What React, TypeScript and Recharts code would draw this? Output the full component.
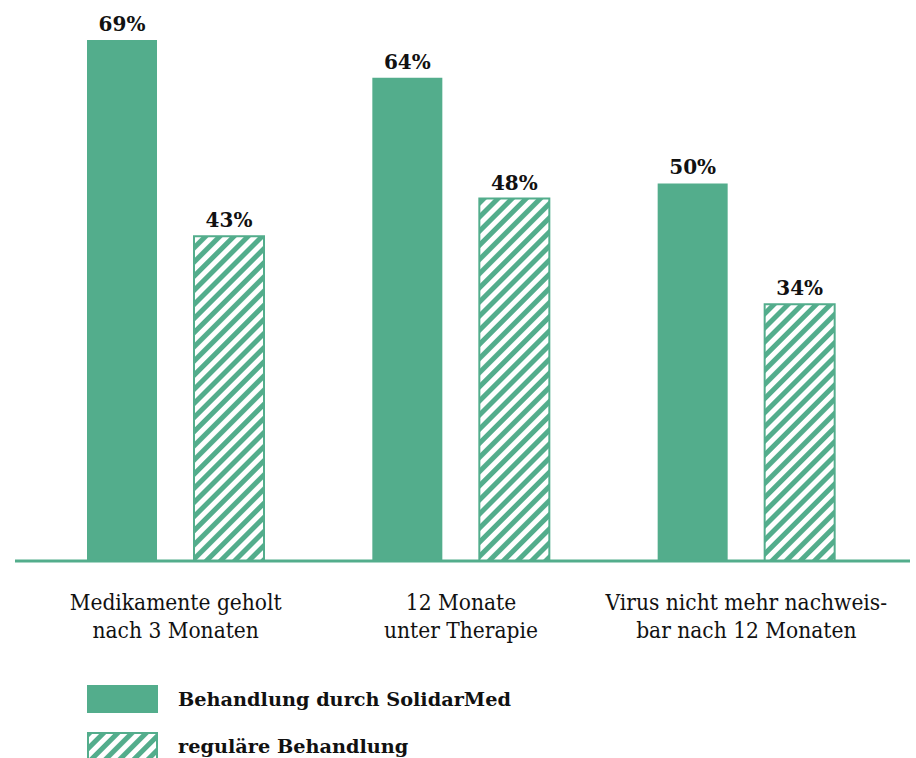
import { BarChart, Bar, XAxis, YAxis, LabelList, Legend, ReferenceLine } from 'recharts'

// ─── Data ─────────────────────────────────────────────────────────────────────

const CATEGORIES = [
  ['Medikamente geholt', 'nach 3 Monaten'],
  ['12 Monate', 'unter Therapie'],
  ['Virus nicht mehr nachweis-', 'bar nach 12 Monaten'],
]
const SOLIDARMED = [69, 64, 50]
const REGULAR = [43, 48, 34]
const SERIES_NAMES = ['Behandlung durch SolidarMed', 'reguläre Behandlung']

const data = CATEGORIES.map((lines, i) => ({
  key: lines.join(' '),
  lines,
  solidarmed: SOLIDARMED[i],
  regular: REGULAR[i],
}))

// ─── Styles ───────────────────────────────────────────────────────────────────

const GREEN = '#53ad8c'
const FONT = '"DejaVu Serif", serif'
const TICK_FONT = '"DejaVu Serif Condensed", "DejaVu Serif", serif'

function CategoryTick({ x, y, payload }: any) {
  const item = data.find((d) => d.key === payload.value)
  const lines = item ? item.lines : [payload.value]
  return (
    <text x={x} y={y} textAnchor="middle" fontFamily={TICK_FONT} fontSize={22.5} fill="#111">
      {lines.map((line: string, i: number) => (
        <tspan key={i} x={x} dy={i === 0 ? 41 : 28}>
          {line}
        </tspan>
      ))}
    </text>
  )
}

function Swatch({ hatched }: { hatched?: boolean }) {
  return (
    <svg width={71} height={28} style={{ display: 'block' }}>
      {hatched ? (
        <rect x={1} y={1} width={69} height={26} fill="url(#hatch)" stroke={GREEN} strokeWidth={2} />
      ) : (
        <rect width={71} height={28} fill={GREEN} />
      )}
    </svg>
  )
}

function ChartLegend() {
  return (
    <div style={{ height: 78, paddingLeft: 72, paddingTop: 5, boxSizing: 'border-box' }}>
      {SERIES_NAMES.map((name, i) => (
        <div key={name} style={{ display: 'flex', alignItems: 'center', height: 28, marginBottom: 19 }}>
          <Swatch hatched={i === 1} />
          <span
            style={{
              marginLeft: 20,
              fontFamily: FONT,
              fontWeight: 'bold',
              fontSize: 19.3,
              color: '#111',
            }}
          >
            {name}
          </span>
        </div>
      ))}
    </div>
  )
}

export default function App() {
  return (
    <div style={{ position: 'absolute', left: 0, top: 0 }}>
      <svg width={0} height={0} style={{ position: 'absolute' }}>
        <defs>
          <pattern id="hatch" width={10} height={10} patternUnits="userSpaceOnUse" patternTransform="rotate(45)">
            <rect width={10} height={10} fill="#fff" />
            <rect width={5} height={10} fill={GREEN} />
          </pattern>
        </defs>
      </svg>
      <BarChart
        width={916}
        height={758}
        data={data}
        margin={{ top: 40, right: 6, left: 15, bottom: 0 }}
        barSize={70}
        barGap={37}
        barCategoryGap={54}
      >
        <defs>
          <pattern id="hatchBar" width={10} height={10} patternUnits="userSpaceOnUse" patternTransform="rotate(45)">
            <rect width={10} height={10} fill="#fff" />
            <rect width={5} height={10} fill={GREEN} />
          </pattern>
        </defs>
        <XAxis
          dataKey="key"
          axisLine={false}
          tickLine={false}
          height={119}
          padding={{ left: 18, right: 21 }}
          tick={<CategoryTick />}
          interval={0}
        />
        <YAxis hide domain={[0, 69]} />
        <Legend verticalAlign="bottom" align="left" content={() => <ChartLegend />} />
        <Bar dataKey="solidarmed" fill={GREEN} isAnimationActive={false}>
          <LabelList
            dataKey="solidarmed"
            position="top"
            offset={9}
            formatter={(v: any) => `${v}%`}
            style={{ fontFamily: FONT, fontWeight: 'bold', fontSize: 20, fill: '#111' }}
          />
        </Bar>
        <Bar dataKey="regular" fill="url(#hatchBar)" stroke={GREEN} strokeWidth={2} isAnimationActive={false}>
          <LabelList
            dataKey="regular"
            position="top"
            offset={9}
            formatter={(v: any) => `${v}%`}
            style={{ fontFamily: FONT, fontWeight: 'bold', fontSize: 20, fill: '#111' }}
          />
        </Bar>
        <ReferenceLine y={0} stroke={GREEN} strokeWidth={3} />
      </BarChart>
    </div>
  )
}
